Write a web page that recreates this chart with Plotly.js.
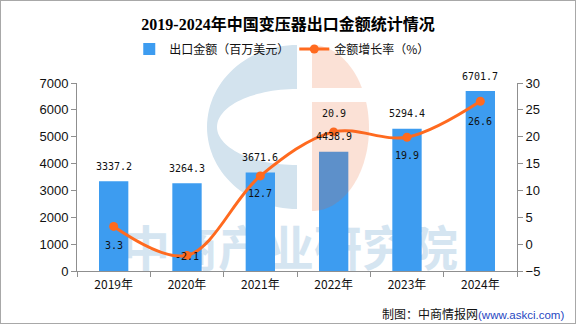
<!DOCTYPE html>
<html>
<head>
<meta charset="utf-8">
<script src="https://cdn.plot.ly/plotly-3.0.1.min.js"></script>
<style>
  html, body { margin: 0; padding: 0; background: #fff; }
  #chart { width: 574px; height: 322px; border: 1px solid #a8a8a8; }
</style>
</head>
<body>
<div id="chart"></div>
<script>
// ---- data ----
const years = ['2019年', '2020年', '2021年', '2022年', '2023年', '2024年'];
const exportValue = [3337.2, 3264.3, 3671.6, 4438.9, 5294.4, 6701.7];   // 百万美元
const growthRate = [3.3, -2.1, 12.7, 20.9, 19.9, 26.6];                 // %
const barName = '出口金额（百万美元）';
const lineName = '金额增长率（%）';

// ---- label offsets (styling, px) ----
const growthLabelShift = [-19, -1, -18, 18, -18, -20];
const barLabelShift = 15;

const blue = '#3d9cf0';
const orange = '#ff6a1f';
const cjk = '"Noto Sans CJK SC", "Noto Sans", sans-serif';
const labelFont = { family: '"DejaVu Sans Mono", monospace', size: 10, color: '#111' };

// pixel (page) -> paper conversion for decorative watermark
const PX0 = 77, PX1 = 517, PY0 = 271, PY1 = 83;
const px = X => (X - PX0) / (PX1 - PX0);
const py = Y => (PY0 - Y) / (PY0 - PY1);

function ellipsePts(cx, cy, rx, ry, t0, t1, n, sx, sy) {
  const pts = [];
  for (let i = 0; i <= n; i++) {
    const t = t0 + (t1 - t0) * i / n;
    pts.push([cx + sx * rx * Math.sin(t), cy + sy * ry * Math.cos(t)]);
  }
  return pts;
}
function toPath(pts) {
  return pts.map((p, i) => (i ? 'L' : 'M') + px(p[0]).toFixed(4) + ',' + py(p[1]).toFixed(4)).join(' ') + ' Z';
}
// blue "C"
let cPts = ellipsePts(297, 127, 90, 82, 0, Math.PI, 60, -1, -1);
cPts = cPts.concat(ellipsePts(297, 127, 80, 38, 0, Math.PI, 60, -1, 1));
// orange half pieces
const t1 = Math.acos(40 / 83), t2 = Math.acos(26 / 83);
let oTop = ellipsePts(312, 128, 57, 83, 0, t1, 30, 1, -1); oTop.push([312, 88]);
let oBot = ellipsePts(312, 128, 57, 83, t2, Math.PI, 50, 1, -1); oBot.push([312, 102]);

const traces = [
  {
    type: 'bar', x: years, y: exportValue, name: barName,
    marker: { color: blue }, width: 0.4, yaxis: 'y', hoverinfo: 'x+y'
  },
  {
    type: 'scatter', mode: 'lines+markers', x: years, y: growthRate, name: lineName,
    yaxis: 'y2', line: { color: orange, width: 3, shape: 'spline', smoothing: 1 },
    marker: { color: orange, size: 9 }
  }
];

const annotations = [];
years.forEach((yr, i) => {
  annotations.push({
    x: yr, y: exportValue[i], xref: 'x', yref: 'y', text: exportValue[i].toFixed(1),
    showarrow: false, yshift: barLabelShift, yanchor: 'middle', font: labelFont
  });
  annotations.push({
    x: yr, y: growthRate[i], xref: 'x', yref: 'y2', text: growthRate[i].toFixed(1),
    showarrow: false, yshift: growthLabelShift[i], yanchor: 'middle', font: labelFont
  });
});
annotations.push({
  xref: 'paper', yref: 'paper', x: px(566), y: py(313), xanchor: 'right', yanchor: 'middle',
  showarrow: false, font: { family: cjk, size: 12, color: '#111' },
  text: '制图：中商情报网<span style="color:#2747c2;font-family:Liberation Sans;font-size:11.5px">(www.askci.com)</span>'
});

const shapes = [
  { type: 'path', xref: 'paper', yref: 'paper', layer: 'below', path: toPath(cPts),
    fillcolor: '#d3e3ee', line: { width: 0 } },
  { type: 'rect', xref: 'paper', yref: 'paper', layer: 'below',
    x0: px(118), x1: px(462), y0: py(274), y1: py(232),
    fillcolor: 'rgba(0,0,0,0)', line: { width: 0 },
    label: { text: '中商产业研究院', textposition: 'middle center',
             font: { family: cjk, size: 48, color: '#d5e5f1', weight: 'bold' } } },
  { type: 'path', xref: 'paper', yref: 'paper', layer: 'above', path: toPath(oTop),
    fillcolor: 'rgba(235,93,35,0.19)', line: { width: 0 } },
  { type: 'path', xref: 'paper', yref: 'paper', layer: 'above', path: toPath(oBot),
    fillcolor: 'rgba(235,93,35,0.19)', line: { width: 0 } }
];

const axisCommon = {
  showgrid: false, zeroline: false, showline: true, linecolor: '#8f8f8f', linewidth: 1,
  ticks: 'outside', ticklen: 5, tickcolor: '#8f8f8f', tickwidth: 1,
  tickfont: { family: '"Liberation Sans", Arial, sans-serif', size: 13, color: '#111' }
};

const layout = {
  width: 574, height: 322,
  margin: { l: 76, r: 58, t: 82, b: 52 },
  paper_bgcolor: '#fff', plot_bgcolor: 'rgba(0,0,0,0)',
  title: {
    text: '2019-2024年中国变压器出口金额统计情况',
    font: { family: '"Liberation Serif", "Noto Sans CJK SC", serif', size: 16, color: '#000', weight: 'bold' },
    xref: 'container', x: 0.5, xanchor: 'center', yref: 'container', y: 1 - 23 / 322, yanchor: 'middle'
  },
  showlegend: true,
  legend: {
    orientation: 'h', xref: 'container', yref: 'container', x: 0.49, xanchor: 'center',
    y: 1 - 48 / 322, yanchor: 'middle', font: { family: cjk, size: 12, color: '#111' },
    itemwidth: 30, bgcolor: 'rgba(0,0,0,0)', traceorder: 'normal'
  },
  xaxis: Object.assign({}, axisCommon, {
    type: 'category', tickson: 'boundaries', ticklabelstandoff: 3,
    tickfont: { family: cjk, size: 12, color: '#111' }
  }),
  yaxis: Object.assign({}, axisCommon, { range: [0, 7000], dtick: 1000, tick0: 0 }),
  yaxis2: Object.assign({}, axisCommon, {
    overlaying: 'y', side: 'right', range: [-5, 30], dtick: 5, tick0: -5
  }),
  annotations: annotations,
  shapes: shapes,
  bargap: 0.6
};

Plotly.newPlot('chart', traces, layout, { displayModeBar: false, staticPlot: true });
</script>
</body>
</html>
